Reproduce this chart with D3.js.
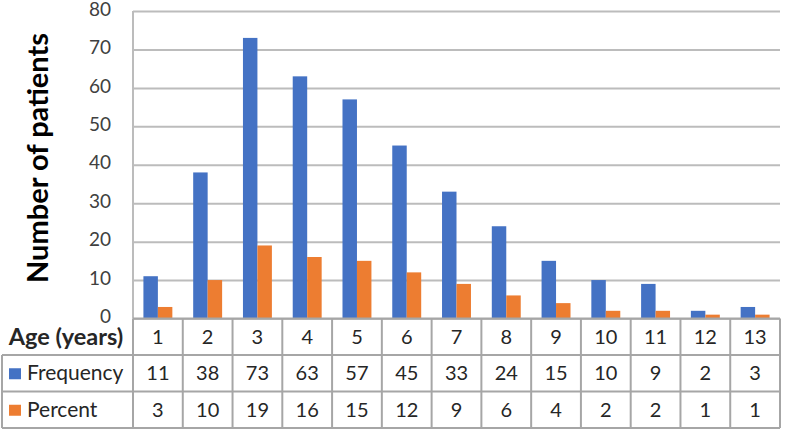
<!DOCTYPE html>
<html><head><meta charset="utf-8">
<script src="https://cdn.jsdelivr.net/npm/d3@7"></script>
<style>body{margin:0;background:#fff;} svg{display:block;}</style>
</head><body><svg id="c" width="788" height="430"></svg>
<script>
const ages = ["1","2","3","4","5","6","7","8","9","10","11","12","13"];
const frequency = [11,38,73,63,57,45,33,24,15,10,9,2,3];
const percent = [3,10,19,16,15,12,9,6,4,2,2,1,1];
const yTicks = [0,10,20,30,40,50,60,70,80];
const seriesNames = ["Frequency","Percent"];
const colors = ["#4472C4","#ED7D31"];

const FONT = "Lato, 'Open Sans', sans-serif";
const TXT = "#262626";
const svg = d3.select("#c");
const pL = 133, pR = 780, pT = 11, pB = 318.5;
const rowH = 36.5;

const x = d3.scaleBand().domain(ages).range([pL, pR]).paddingInner(0).paddingOuter(0);
const inner = d3.scaleBand().domain(seriesNames).range([0, x.bandwidth()]).paddingInner(0).paddingOuter(0.72);
const y = d3.scaleLinear().domain([0,80]).range([pB, pT]);

// grid + tick labels
const ax = svg.append("g").attr("transform", `translate(${pL},0)`)
  .call(d3.axisLeft(y).tickValues(yTicks).tickSize(-(pR-pL)).tickPadding(22));
ax.select(".domain").remove();
ax.selectAll(".tick line").attr("stroke","#bcbcbc").attr("stroke-width",2);
ax.selectAll(".tick text").attr("font-family",FONT).attr("font-size",19).attr("fill","#404040").attr("dy","0.22em");

// bars
const data = [frequency, percent];
data.forEach((vals, si) => {
  svg.append("g").selectAll("rect").data(vals).join("rect")
    .attr("x", (d,i) => x(ages[i]) + inner(seriesNames[si]))
    .attr("width", inner.bandwidth())
    .attr("y", d => y(d))
    .attr("height", d => y(0) - y(d))
    .attr("fill", colors[si]);
});

// axis line (left)
svg.append("line").attr("x1",pL).attr("x2",pL).attr("y1",pT).attr("y2",pB)
  .attr("stroke","#bcbcbc").attr("stroke-width",2);

// table
const lineC = "#a6a6a6";
const tg = svg.append("g");
const rowsY = [pB, pB+rowH, pB+2*rowH, pB+3*rowH];
tg.append("line").attr("x1",pL).attr("x2",pR).attr("y1",rowsY[0]).attr("y2",rowsY[0]).attr("stroke",lineC).attr("stroke-width",2);
[1,2,3].forEach(k => tg.append("line").attr("x1",2).attr("x2",pR).attr("y1",rowsY[k]).attr("y2",rowsY[k]).attr("stroke",lineC).attr("stroke-width",2));
tg.append("line").attr("x1",2).attr("x2",2).attr("y1",rowsY[1]).attr("y2",rowsY[3]).attr("stroke",lineC).attr("stroke-width",2);
ages.concat(["end"]).forEach((a,i) => {
  const xx = i < ages.length ? x(a) : pR;
  tg.append("line").attr("x1",xx).attr("x2",xx).attr("y1",rowsY[0]).attr("y2",rowsY[3]).attr("stroke",lineC).attr("stroke-width",2);
});

// header row
tg.append("text").attr("x",66).attr("y",rowsY[0]+rowH/2+8).attr("text-anchor","middle")
  .attr("font-family",FONT).attr("font-weight","bold").attr("font-size",23.5).attr("fill",TXT).text("Age (years)");
tg.selectAll("text.age").data(ages).join("text").attr("class","age")
  .attr("x", d => x(d)+x.bandwidth()/2).attr("y", rowsY[0]+rowH/2+7).attr("text-anchor","middle")
  .attr("font-family",FONT).attr("font-size",20).attr("fill",TXT).text(d=>d);

// series rows
data.forEach((vals, si) => {
  const cy = rowsY[si+1] + rowH/2;
  tg.append("rect").attr("x",9).attr("y",cy-5).attr("width",12).attr("height",11).attr("fill",colors[si]);
  tg.append("text").attr("x",27).attr("y",cy+7).attr("font-family",FONT).attr("font-size",21).attr("fill",TXT).text(seriesNames[si]);
  tg.selectAll("text.v"+si).data(vals).join("text").attr("class","v"+si)
    .attr("x",(d,i) => x(ages[i])+x.bandwidth()/2).attr("y",cy+7).attr("text-anchor","middle")
    .attr("font-family",FONT).attr("font-size",20).attr("fill",TXT).text(d=>d);
});

// y title
svg.append("text").attr("transform","translate(48,158) rotate(-90)").attr("text-anchor","middle")
  .attr("font-family",FONT).attr("font-weight","bold").attr("font-size",29).attr("fill","#000").text("Number of patients");
</script></body></html>
